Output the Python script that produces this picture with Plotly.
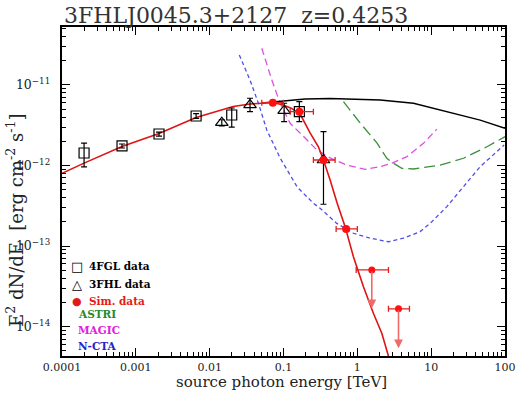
import math
import plotly.graph_objects as go

# ---------------- data ----------------
# 4FGL data (open squares)
fgl_E = [1.99e-4, 6.5e-4, 2.06e-3, 6.55e-3, 0.0199, 0.164]
fgl_F = [1.43e-12, 1.75e-12, 2.46e-12, 4.12e-12, 4.24e-12, 4.66e-12]
fgl_Fhi = [1.9e-12, 1.85e-12, 2.6e-12, 4.4e-12, 5.18e-12, 6.2e-12]
fgl_Flo = [9.6e-13, 1.65e-12, 2.32e-12, 3.85e-12, 3.0e-12, 3.5e-12]

# 3FHL data (open triangles)
fhl_E = [0.0146, 0.0352, 0.102, 0.348]
fhl_F = [3.4e-12, 5.65e-12, 4.8e-12, 1.17e-12]
fhl_Fhi = [3.7e-12, 6.84e-12, 5.93e-12, 2.63e-12]
fhl_Flo = [3.1e-12, 4.66e-12, 3.5e-12, 3.3e-13]

# Simulated data (red points)
sim_E = [0.0716, 0.164, 0.348, 0.705]
sim_F = [6.03e-12, 4.66e-12, 1.17e-12, 1.63e-13]
sim_Elo = [0.0508, 0.123, 0.254, 0.516]
sim_Ehi = [0.0998, 0.254, 0.50, 1.0]

# Simulated upper limits
ul_E = [1.57, 3.61]
ul_F = [5.04e-14, 1.66e-14]
ul_Elo = [0.964, 2.64]
ul_Ehi = [2.64, 5.08]
ul_Fend = [1.68e-14, 5.36e-15]

# Model with EBL absorption (red)
red_E = [1.0e-4, 1.99e-4, 6.5e-4, 2.06e-3, 6.55e-3, 0.0208, 0.0352, 0.0513, 0.0723,
         0.0988, 0.127, 0.168, 0.229, 0.297, 0.348, 0.428, 0.532, 0.683, 0.885,
         1.21, 1.65, 2.15, 2.64, 2.87]
red_F = [8.0e-13, 1.07e-12, 1.72e-12, 2.50e-12, 3.95e-12, 5.41e-12, 5.81e-12, 5.97e-12, 6.06e-12,
         5.65e-12, 5.15e-12, 4.35e-12, 2.54e-12, 1.71e-12, 1.17e-12, 6.6e-13, 3.42e-13, 1.74e-13, 7.36e-14,
         3.12e-14, 1.46e-14, 8.2e-15, 4.2e-15, 3.3e-15]

# Intrinsic model (black)
blk_E = [0.0513, 0.0723, 0.0988, 0.196, 0.428, 1.09, 2.04, 5.76, 16.3, 46.1, 100]
blk_F = [5.97e-12, 6.15e-12, 6.33e-12, 6.70e-12, 6.79e-12, 6.70e-12, 6.51e-12, 5.93e-12,
         4.66e-12, 3.67e-12, 2.90e-12]

# Sensitivity curves
magic_E = [0.0508, 0.0695, 0.090, 0.123, 0.190, 0.283, 0.428, 0.721, 1.28, 2.04, 2.96, 4.69, 7.87, 11.9]
magic_F = [2.86e-11, 1.15e-11, 5.93e-12, 3.34e-12, 2.26e-12, 1.56e-12, 1.24e-12, 1.01e-12, 8.97e-13,
           9.67e-13, 1.07e-12, 1.29e-12, 1.89e-12, 2.82e-12]

astri_E = [0.649, 1.09, 1.84, 2.51, 3.06, 4.01, 5.76, 13.2, 27.4, 56.9, 100]
astri_F = [6.21e-12, 3.37e-12, 1.91e-12, 1.23e-12, 1.07e-12, 9.2e-13, 9.05e-13, 1.01e-12,
           1.23e-12, 1.71e-12, 2.28e-12]

ncta_E = [0.0252, 0.0352, 0.0457, 0.0594, 0.090, 0.153, 0.252, 0.313, 0.527, 0.885, 1.49, 2.64,
          4.21, 7.10, 9.69, 16.3, 27.4, 46.1, 97.5]
ncta_F = [2.36e-11, 1.15e-11, 5.93e-12, 2.76e-12, 1.24e-12, 5.41e-13, 3.42e-13, 2.94e-13, 1.91e-13,
          1.44e-13, 1.25e-13, 1.13e-13, 1.25e-13, 1.51e-13, 1.91e-13, 3.08e-13, 5.46e-13, 9.67e-13, 1.80e-12]

x_range_log = [-4, 2]
y_range_log = [-14.366, -10.28]

title_text = "3FHLJ0045.3+2127  z=0.4253"
x_title = "source photon energy [TeV]"
y_title = "E<sup>2</sup> dN/dE  [erg cm<sup>-2</sup> s<sup>-1</sup>]"
legend_rows = [("□", "4FGL data", "black"), ("△", "3FHL data", "black"),
               ("●", "Sim. data", "#e41a1a")]
legend_plain = [("ASTRI", "#2a8a2a"), ("MAGIC", "#e020e0"), ("N-CTA", "#2424c8")]

# ---------------- figure ----------------
W, H = 518, 393
ML, MR, MT, MB = 62, 13, 27, 37
SERIF = "DejaVu Serif"

fig = go.Figure()

fig.add_trace(go.Scatter(x=ncta_E, y=ncta_F, mode="lines",
                         line=dict(color="#4f4fe6", width=1.3, dash="4px,3px"), hoverinfo="skip"))
fig.add_trace(go.Scatter(x=magic_E, y=magic_F, mode="lines",
                         line=dict(color="#e050e0", width=1.3, dash="7px,4px"), hoverinfo="skip"))
fig.add_trace(go.Scatter(x=astri_E, y=astri_F, mode="lines",
                         line=dict(color="#3c8f3c", width=1.3, dash="11px,5px"), hoverinfo="skip"))
fig.add_trace(go.Scatter(x=blk_E, y=blk_F, mode="lines",
                         line=dict(color="black", width=1.3), hoverinfo="skip"))
fig.add_trace(go.Scatter(x=red_E, y=red_F, mode="lines",
                         line=dict(color="#e01414", width=1.6), hoverinfo="skip"))

fig.add_trace(go.Scatter(
    x=fgl_E, y=fgl_F, mode="markers",
    marker=dict(symbol="square-open", size=10, color="black", line=dict(width=1.2)),
    error_y=dict(type="data", symmetric=False,
                 array=[h - f for h, f in zip(fgl_Fhi, fgl_F)],
                 arrayminus=[f - l for f, l in zip(fgl_F, fgl_Flo)],
                 color="black", thickness=1.2, width=3)))

fig.add_trace(go.Scatter(
    x=fhl_E, y=fhl_F, mode="markers",
    marker=dict(symbol="triangle-up-open", size=11, color="black", line=dict(width=1.2)),
    error_y=dict(type="data", symmetric=False,
                 array=[h - f for h, f in zip(fhl_Fhi, fhl_F)],
                 arrayminus=[f - l for f, l in zip(fhl_F, fhl_Flo)],
                 color="black", thickness=1.2, width=3)))

fig.add_trace(go.Scatter(
    x=sim_E, y=sim_F, mode="markers",
    marker=dict(symbol="circle", size=8, color="#ff1010"),
    error_x=dict(type="data", symmetric=False,
                 array=[h - e for h, e in zip(sim_Ehi, sim_E)],
                 arrayminus=[e - l for e, l in zip(sim_E, sim_Elo)],
                 color="#e02020", thickness=1.3, width=3)))

fig.add_trace(go.Scatter(
    x=ul_E, y=ul_F, mode="markers",
    marker=dict(symbol="circle", size=7, color="#ff1010"),
    error_x=dict(type="data", symmetric=False,
                 array=[h - e for h, e in zip(ul_Ehi, ul_E)],
                 arrayminus=[e - l for e, l in zip(ul_E, ul_Elo)],
                 color="#e02020", thickness=1.3, width=3)))

annotations = []
for e, f0, f1 in zip(ul_E, ul_F, ul_Fend):
    annotations.append(dict(x=math.log10(e), y=math.log10(f1), ax=math.log10(e), ay=math.log10(f0),
                            xref="x", yref="y", axref="x", ayref="y", text="", showarrow=True,
                            arrowhead=2, arrowsize=1.1, arrowwidth=1.6, arrowcolor="#f06a6a",
                            standoff=0, startstandoff=0))


def px_x(px):
    return (px - ML) / (W - ML - MR)


def px_y(py):
    return (H - MB - py) / (H - MT - MB)


annotations.append(dict(text=title_text, x=px_x(62), y=px_y(16), xref="paper", yref="paper",
                        xanchor="left", yanchor="middle", showarrow=False,
                        font=dict(family=SERIF, size=22, color="#333333")))
annotations.append(dict(text=x_title, x=px_x(281), y=px_y(382), xref="paper", yref="paper",
                        xanchor="center", yanchor="middle", showarrow=False,
                        font=dict(family=SERIF, size=15, color="#222222")))
annotations.append(dict(text=y_title, x=px_x(15), y=px_y(220), xref="paper", yref="paper",
                        xanchor="center", yanchor="middle", showarrow=False, textangle=-90,
                        font=dict(family=SERIF, size=18, color="#222222")))

row_y = [266, 284, 301]
sym_size = [13, 13, 11]
for (sym, txt, col), yy, ss in zip(legend_rows, row_y, sym_size):
    annotations.append(dict(text=sym, x=px_x(77), y=px_y(yy), xref="paper", yref="paper",
                            xanchor="center", yanchor="middle", showarrow=False,
                            font=dict(family="DejaVu Sans", size=ss, color=col)))
    annotations.append(dict(text="<b>" + txt + "</b>", x=px_x(87), y=px_y(yy), xref="paper", yref="paper",
                            xanchor="left", yanchor="middle", showarrow=False,
                            font=dict(family=SERIF, size=10.5, color=col)))
for (txt, col), yy in zip(legend_plain, [314, 330, 346]):
    annotations.append(dict(text="<b>" + txt + "</b>", x=px_x(76), y=px_y(yy), xref="paper", yref="paper",
                            xanchor="left", yanchor="middle", showarrow=False,
                            font=dict(family=SERIF, size=10.5, color=col)))

axis_common = dict(showline=True, linecolor="black", linewidth=1.5, mirror="allticks",
                   ticks="inside", ticklen=8, tickwidth=1.2, tickcolor="black",
                   showgrid=False, zeroline=False, automargin=False,
                   minor=dict(ticks="inside", ticklen=4, tickwidth=1, tickcolor="black", showgrid=False))

fig.update_xaxes(type="log", range=x_range_log, dtick=1, exponentformat="none",
                 ticklabelstandoff=0, tickfont=dict(family=SERIF, size=11, color="#222222"),
                 **axis_common)
fig.update_yaxes(type="log", range=y_range_log, dtick=1, exponentformat="power",
                 showexponent="all", ticklabelstandoff=8,
                 tickfont=dict(family=SERIF, size=10, color="#222222"), **axis_common)

fig.update_layout(width=W, height=H, margin=dict(l=ML, r=MR, t=MT, b=MB, pad=0, autoexpand=False),
                  plot_bgcolor="white", paper_bgcolor="white", showlegend=False,
                  annotations=annotations)

fig.write_html("out.html")
